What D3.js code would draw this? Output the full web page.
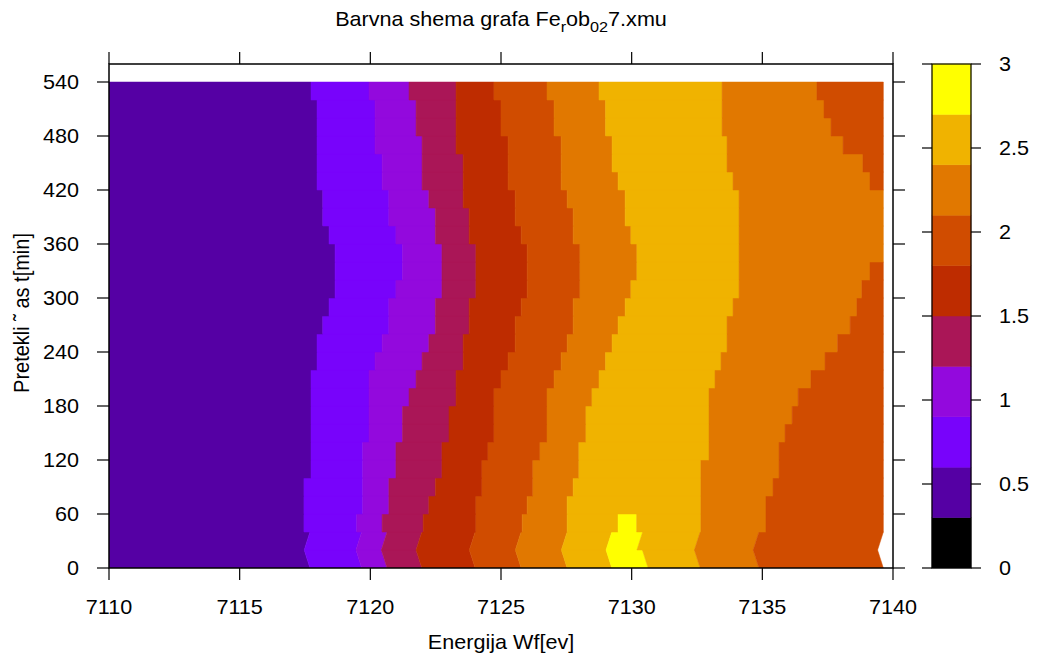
<!DOCTYPE html>
<html><head><meta charset="utf-8">
<script src="https://cdn.jsdelivr.net/npm/d3@7"></script>
<style>
body{margin:0;background:#fff}
svg{display:block}
text{font-family:"Liberation Sans",Arial,Helvetica,sans-serif;fill:#000}
</style>
</head><body>
<svg id="chart" width="1037" height="657"></svg>
<script>
// ---- data ----
const scanTimes = [0,20,40,60,80,100,120,140,160,180,200,220,240,260,280,300,320,340,360,380,400,420,440,460,480,500,520,540];
// energy-grid offset of each scan (eV)
const scanShift = [0,-0.22,0,0,0,0,0,0,0,0,0,0,0,0,0,0,0,0,0,0,0,0,0,0,0,0,0,0];
const dataStart = 7110.0;
const dataEnd = 7139.63;
// contour-level crossing energies for each row (row i lies between scanTimes[i] and scanTimes[i+1])
const rise06 = [7117.69,7117.69,7117.46,7117.46,7117.46,7117.73,7117.73,7117.73,7117.73,7117.73,7117.73,7117.96,7117.96,7118.18,7118.42,7118.65,7118.65,7118.65,7118.42,7118.18,7118.18,7117.96,7117.96,7117.96,7117.96,7117.96,7117.73];
const rise09 = [7119.67,7119.67,7119.48,7119.71,7119.71,7119.71,7119.71,7119.95,7119.95,7119.95,7119.95,7120.18,7120.45,7120.71,7120.71,7120.98,7121.23,7121.23,7120.98,7120.71,7120.71,7120.45,7120.45,7120.18,7120.18,7120.18,7119.95];
const rise12 = [7120.64,7120.64,7120.45,7120.71,7120.71,7120.98,7120.98,7121.23,7121.23,7121.48,7121.75,7121.98,7122.24,7122.49,7122.49,7122.74,7122.74,7122.74,7122.49,7122.49,7122.24,7121.98,7121.98,7121.98,7121.75,7121.75,7121.48];
const rise15 = [7121.97,7121.97,7122.02,7122.24,7122.49,7122.74,7122.74,7123.01,7123.01,7123.28,7123.28,7123.55,7123.55,7123.78,7123.78,7124.04,7124.04,7124.04,7123.78,7123.78,7123.55,7123.55,7123.55,7123.28,7123.28,7123.28,7123.28];
const rise18 = [7124.01,7124.01,7124.04,7124.04,7124.27,7124.27,7124.50,7124.73,7124.73,7124.73,7125.00,7125.27,7125.54,7125.54,7125.77,7126.00,7126.00,7126.00,7125.77,7125.54,7125.54,7125.27,7125.27,7125.27,7125.00,7125.00,7124.73];
const rise21 = [7125.77,7125.77,7125.81,7126.00,7126.22,7126.22,7126.49,7126.76,7126.76,7126.76,7127.03,7127.30,7127.53,7127.76,7127.76,7128.02,7128.02,7128.02,7127.76,7127.76,7127.53,7127.30,7127.30,7127.30,7127.03,7127.03,7126.76];
const rise24 = [7127.53,7127.53,7127.53,7127.53,7127.76,7127.98,7127.98,7128.25,7128.25,7128.48,7128.75,7129.00,7129.25,7129.48,7129.75,7129.97,7130.20,7130.20,7129.97,7129.75,7129.75,7129.48,7129.25,7129.25,7129.00,7129.00,7128.75];
const rise27 = [7129.24,7129.24,7129.48,null,null,null,null,null,null,null,null,null,null,null,null,null,null,null,null,null,null,null,null,null,null,null,null];
const fall27 = [7130.63,7130.42,7130.19,null,null,null,null,null,null,null,null,null,null,null,null,null,null,null,null,null,null,null,null,null,null,null,null];
const fall24 = [7132.62,7132.62,7132.65,7132.65,7132.65,7132.65,7132.96,7132.96,7132.96,7132.96,7133.19,7133.42,7133.65,7133.65,7133.88,7134.11,7134.11,7134.11,7134.11,7134.11,7134.11,7133.88,7133.65,7133.65,7133.46,7133.46,7133.46];
const fall21 = [7134.87,7134.87,7135.14,7135.14,7135.41,7135.64,7135.64,7135.87,7136.14,7136.37,7136.86,7137.40,7137.88,7138.36,7138.62,7138.81,7139.12,null,null,null,null,7139.12,7138.85,7138.09,7137.63,7137.36,7137.09];
// value of the band entered after each boundary (first = value before first boundary)
const bandValues = [0.45,0.75,1.05,1.35,1.65,1.95,2.25,2.55,2.85,2.55,2.25,1.95];
const bandColors = ["#000000","#5500a4","#7803fb","#9309dd","#aa1657","#be2c00","#d04c00","#e17800","#f0b300","#ffff00"];
const xTicks = [7110,7115,7120,7125,7130,7135,7140];
const yTicks = [0,60,120,180,240,300,360,420,480,540];
const cbTicks = [0,0.5,1,1.5,2,2.5,3];
const cbLabels = ["0","0.5","1","1.5","2","2.5","3"];

// ---- layout ----
const L = 109, R = 893, T = 64, B = 568;
const SX = 1.08; // horizontal stretch of the lettering
const svg = d3.select("#chart");
const x = d3.scaleLinear().domain([7110,7140]).range([L,R]);
const y = d3.scaleLinear().domain([0,560]).range([B,T]);
const color = d3.scaleQuantize().domain([0,3]).range(bandColors);

svg.append("defs").append("clipPath").attr("id","plotclip")
  .append("rect").attr("x",L).attr("y",T).attr("width",R-L).attr("height",B-T);

const boundaries = [rise06,rise09,rise12,rise15,rise18,rise21,rise24,rise27,fall27,fall24,fall21];
const cells = [];
for (let i = 0; i < scanTimes.length - 1; i++) {
  let from = dataStart, v = bandValues[0];
  const segs = [];
  boundaries.forEach((arr,k) => {
    const e = arr[i];
    if (e != null) { segs.push({from, to:e, v}); from = e; v = bandValues[k+1]; }
  });
  segs.push({from, to:dataEnd, v});
  const s0 = scanShift[i], s1 = scanShift[i+1], t0 = scanTimes[i], t1 = scanTimes[i+1];
  segs.forEach(s => cells.push({
    pts: [[x(s.from+s0),y(t0)],[x(s.to+s0),y(t0)],[x(s.to+s1),y(t1)],[x(s.from+s1),y(t1)]],
    v: s.v
  }));
}
svg.append("g").attr("clip-path","url(#plotclip)")
  .selectAll("polygon").data(cells).join("polygon")
  .attr("points", d => d.pts.map(p => p.join(",")).join(" "))
  .attr("fill", d => color(d.v))
  .attr("stroke", d => color(d.v))
  .attr("stroke-width", 0.5);

// ---- axes ----
const tl = 12;
const ax = svg.append("g").attr("stroke","#000").attr("stroke-width",1.2);
ax.selectAll(".xb").data(xTicks).join("line").attr("class","xb")
  .attr("x1",d=>x(d)).attr("x2",d=>x(d)).attr("y1",B).attr("y2",B+tl);
ax.selectAll(".xt").data(xTicks).join("line").attr("class","xt")
  .attr("x1",d=>x(d)).attr("x2",d=>x(d)).attr("y1",T).attr("y2",T-tl);
ax.selectAll(".yl").data(yTicks).join("line").attr("class","yl")
  .attr("x1",L).attr("x2",L-tl).attr("y1",d=>y(d)).attr("y2",d=>y(d));
ax.selectAll(".yr").data(yTicks).join("line").attr("class","yr")
  .attr("x1",R).attr("x2",R+tl).attr("y1",d=>y(d)).attr("y2",d=>y(d));
svg.append("rect").attr("x",L).attr("y",T).attr("width",R-L).attr("height",B-T)
  .attr("fill","none").attr("stroke","#000").attr("stroke-width",1.5);

const place = (px,py) => `translate(${px},${py}) scale(${SX},1)`;
svg.append("g").selectAll("text").data(xTicks).join("text")
  .attr("transform",d=>place(x(d),614)).attr("text-anchor","middle")
  .attr("font-size",20).text(d=>d);
svg.append("g").selectAll("text").data(yTicks).join("text")
  .attr("transform",d=>place(79,y(d))).attr("dy","0.36em").attr("text-anchor","end")
  .attr("font-size",20).text(d=>d);

// ---- titles ----
const title = svg.append("text").attr("transform",place(501,26)).attr("text-anchor","middle").attr("font-size",20);
title.append("tspan").text("Barvna shema grafa Fe");
title.append("tspan").attr("font-size",15).attr("dy",6).text("r");
title.append("tspan").attr("dy",-6).text("ob");
title.append("tspan").attr("font-size",15).attr("dy",6).text("02");
title.append("tspan").attr("dy",-6).text("7.xmu");

svg.append("text").attr("transform",place(501,649)).attr("text-anchor","middle")
  .attr("font-size",20).text("Energija Wf[ev]");
svg.append("text").attr("transform",`translate(29,313) scale(${SX},1) rotate(-90)`)
  .attr("text-anchor","middle").attr("font-size",20).text("Pretekli \u02DC as t[min]");

// ---- colour box ----
const cx0 = 932, cx1 = 971;
const cy = d3.scaleLinear().domain([0,3]).range([B,T]);
const bandEdges = d3.range(bandColors.length).map(k => [k*3/bandColors.length,(k+1)*3/bandColors.length]);
svg.append("g").selectAll("rect").data(bandEdges).join("rect")
  .attr("x",cx0).attr("width",cx1-cx0)
  .attr("y",d=>cy(d[1])).attr("height",d=>cy(d[0])-cy(d[1]))
  .attr("fill",(d,k)=>bandColors[k]).attr("stroke",(d,k)=>bandColors[k]).attr("stroke-width",0.5);
svg.append("rect").attr("x",cx0).attr("y",T).attr("width",cx1-cx0).attr("height",B-T)
  .attr("fill","none").attr("stroke","#000").attr("stroke-width",1.2);
const cbt = svg.append("g").attr("stroke","#000").attr("stroke-width",1.2);
cbt.selectAll(".cl").data(cbTicks).join("line").attr("class","cl")
  .attr("x1",cx0).attr("x2",cx0-10).attr("y1",d=>cy(d)).attr("y2",d=>cy(d));
cbt.selectAll(".cr").data(cbTicks).join("line").attr("class","cr")
  .attr("x1",cx1).attr("x2",cx1+10).attr("y1",d=>cy(d)).attr("y2",d=>cy(d));
svg.append("g").selectAll("text").data(cbTicks).join("text")
  .attr("transform",d=>place(999,cy(d))).attr("dy","0.36em").attr("font-size",20)
  .text((d,k)=>cbLabels[k]);
</script>
</body></html>
